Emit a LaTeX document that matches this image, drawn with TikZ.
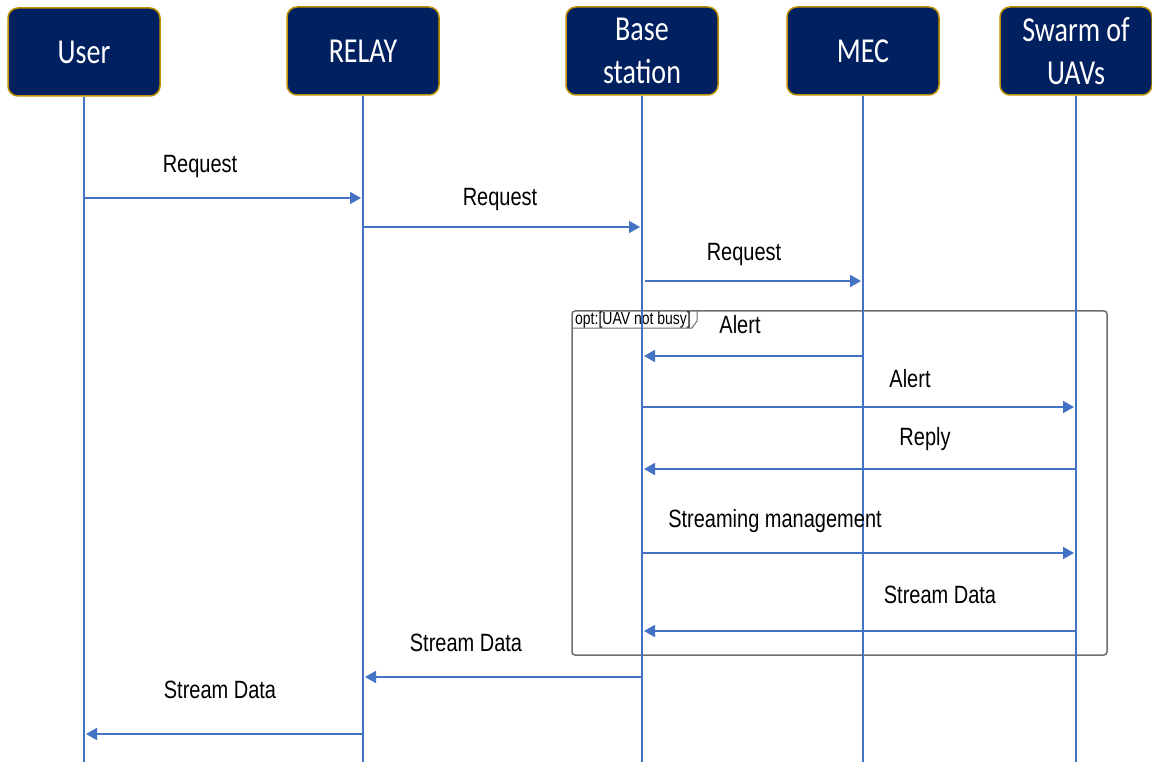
\documentclass[tikz,border=0pt]{standalone}
\usepackage{fontspec}
\setmainfont{Liberation Sans}
\newfontfamily\boxfont[FakeStretch=0.8]{Carlito}
\newfontfamily\msgfont[FakeStretch=0.8]{Liberation Sans}
\usetikzlibrary{arrows.meta}
\definecolor{navy}{HTML}{002060}
\definecolor{gold}{HTML}{BF9000}
\definecolor{lineblue}{HTML}{4472C4}
\definecolor{framegray}{HTML}{6E6E6E}
\tikzset{
  actor/.style={draw=gold, fill=navy, line width=1.5pt, rounded corners=10pt,
    minimum width=152pt, minimum height=88pt, text=white, align=center,
    inner sep=0pt, font=\boxfont\fontsize{35}{43}\selectfont},
  lifeline/.style={draw=lineblue, line width=1.8pt},
  msg/.style={draw=lineblue, line width=1.8pt, shorten >=2pt,
    -{Triangle[length=11pt,width=12pt]}},
  msglabel/.style={font=\msgfont\fontsize{25}{28}\selectfont, inner sep=0pt},
  fragment/.style={draw=framegray, line width=1.5pt, rounded corners=3pt},
  fragtag/.style={draw=framegray, line width=1pt},
  taglabel/.style={font=\msgfont\fontsize{17.5}{20}\selectfont, inner sep=0pt}
}
\begin{document}
\begin{tikzpicture}[x=1pt,y=-1pt]
\useasboundingbox (0,0) rectangle (1152,762);

% participants
\node[actor] (user)  at (84,52)   {User};
\node[actor] (relay) at (363,51)  {RELAY};
\node[actor] (bs)    at (642,51)  {Base\\station};
\node[actor] (mec)   at (863,51)  {MEC};
\node[actor] (uav)   at (1076,51) {Swarm of\\UAVs};

% optional fragment
\draw[fragment] (572,311) rectangle (1107,655);
\draw[fragtag] (572,328) -- (692,328) -- (697,321) -- (697,311);
\node[taglabel] (tag) at (633,319.5) {opt:[UAV not busy]};

% lifelines
\coordinate (userEnd)  at (84,762);
\coordinate (relayEnd) at (362,762);
\coordinate (bsEnd)    at (641,762);
\coordinate (mecEnd)   at (864,762);
\coordinate (uavEnd)   at (1076,762);
\draw[lifeline] (user.south)  -- (user.south |- userEnd);
\draw[lifeline] (relay.south) -- (relay.south |- relayEnd);
\draw[lifeline] (bs.south)    -- (bs.south |- bsEnd);
\draw[lifeline] (mec.south)   -- (mec.south |- mecEnd);
\draw[lifeline] (uav.south)   -- (uav.south |- uavEnd);

% messages
\draw[msg] (user.south |- 0,198)  -- (relay.south |- 0,198);
\node[msglabel] (l1) at (200,166) {Request};
\draw[msg] (relay.south |- 0,227) -- (bs.south |- 0,227);
\node[msglabel] (l2) at (500,199) {Request};
\draw[msg] ([xshift=3pt]bs.south |- 0,281) -- (mec.south |- 0,281);
\node[msglabel] (l3) at (744,254) {Request};

\draw[msg] (mec.south |- 0,356)   -- (bs.south |- 0,356);
\node[msglabel] (l4) at (740,325) {Alert};
\draw[msg] (bs.south |- 0,407)    -- (uav.south |- 0,407);
\node[msglabel] (l5) at (910,379) {Alert};
\draw[msg] (uav.south |- 0,469)   -- (bs.south |- 0,469);
\node[msglabel] (l6) at (925,439) {Reply};
\draw[msg] (bs.south |- 0,553)    -- (uav.south |- 0,553);
\node[msglabel] (l7) at (775,521) {Streaming management};
\draw[msg] (uav.south |- 0,631)   -- (bs.south |- 0,631);
\node[msglabel] (l8) at (940,595) {Stream Data};

\draw[msg] (bs.south |- 0,677)    -- (relay.south |- 0,677);
\node[msglabel] (l9) at (466,643) {Stream Data};
\draw[msg] (relay.south |- 0,734) -- (user.south |- 0,734);
\node[msglabel] (l10) at (220,690) {Stream Data};
\end{tikzpicture}
\end{document}
